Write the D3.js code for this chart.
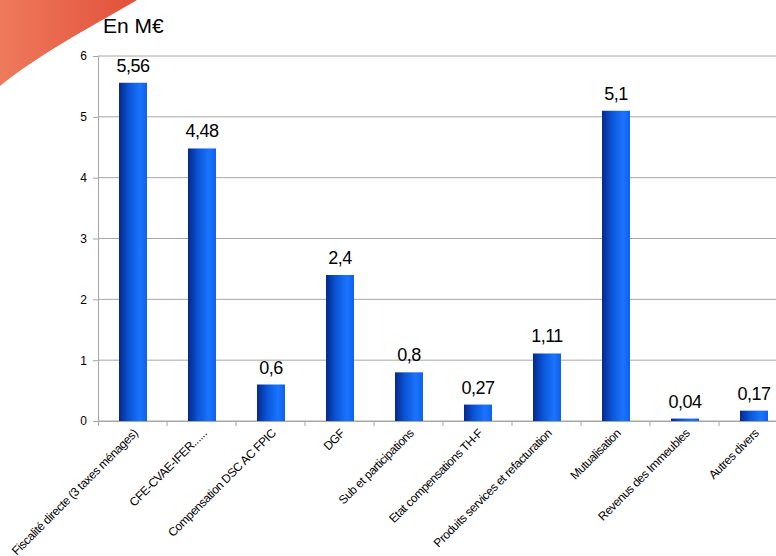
<!DOCTYPE html>
<html lang="fr">
<head>
  <meta charset="UTF-8">
  <title>Recettes en M€</title>
  <script src="https://d3js.org/d3.v7.min.js"></script>
  <style>
    body { margin: 0; background: #fff; font-family: 'Liberation Sans', Arial, sans-serif; }
    svg { display: block; }
  </style>
</head>
<body>
  <svg width="776" height="556"></svg>
  <script>
    // Chart data
    const categories = [
      "Fiscalité directe (3 taxes ménages)",
      "CFE-CVAE-IFER......",
      "Compensation DSC AC FPIC",
      "DGF",
      "Sub et participations",
      "Etat compensations TH-F",
      "Produits services et refacturation",
      "Mutualisation",
      "Revenus des Immeubles",
      "Autres divers"
    ];
    const values = [5.56, 4.48, 0.6, 2.4, 0.8, 0.27, 1.11, 5.1, 0.04, 0.17];
    const yTicks = [0, 1, 2, 3, 4, 5, 6];

    const svg = d3.select("svg");

    // orange swoosh in the corner
    const grad = svg.append("defs");
    const og = grad.append("linearGradient").attr("id", "swoosh")
      .attr("x1", "0%").attr("y1", "0%").attr("x2", "100%").attr("y2", "0%");
    og.append("stop").attr("offset", "0%").attr("stop-color", "#ee7a5c");
    og.append("stop").attr("offset", "100%").attr("stop-color", "#e2503a");
    svg.append("path")
      .attr("d", "M0,0 L137,0 C100,22 45,50 0,86 Z")
      .attr("fill", "url(#swoosh)");

    // bar gradient
    const bg = grad.append("linearGradient").attr("id", "bar")
      .attr("x1", "0%").attr("y1", "0%").attr("x2", "100%").attr("y2", "0%");
    bg.append("stop").attr("offset", "0%").attr("stop-color", "#06288a");
    bg.append("stop").attr("offset", "35%").attr("stop-color", "#0a55d6");
    bg.append("stop").attr("offset", "75%").attr("stop-color", "#1a74ff");
    bg.append("stop").attr("offset", "100%").attr("stop-color", "#0f60ea");

    const x = d3.scaleBand()
      .domain(categories)
      .range([98, 788]);

    const y = d3.scaleLinear()
      .domain([0, 6])
      .range([421, 56]);

    // gridlines
    svg.append("g")
      .selectAll("line")
      .data(yTicks)
      .join("line")
      .attr("x1", 98).attr("x2", 776)
      .attr("y1", d => y(d)).attr("y2", d => y(d))
      .attr("stroke", "#a6a6a6").attr("stroke-width", 1);

    // y axis
    const yAxis = svg.append("g")
      .attr("transform", "translate(98,0)")
      .call(d3.axisLeft(y).tickValues(yTicks).tickSize(5).tickFormat(d3.format("d")));
    yAxis.select(".domain").attr("stroke", "#a6a6a6");
    yAxis.selectAll(".tick line").attr("stroke", "#a6a6a6");
    yAxis.selectAll("text").attr("font-size", 12).attr("font-family", "'Liberation Sans', Arial, sans-serif")
      .attr("fill", "#000").attr("x", -11);

    // x axis
    const xAxis = svg.append("g")
      .attr("transform", `translate(0,${y(0)})`)
      .call(d3.axisBottom(x).tickSize(5).tickFormat(""));
    xAxis.select(".domain").attr("stroke", "#a6a6a6");
    xAxis.selectAll(".tick line")
      .attr("stroke", "#a6a6a6")
      .attr("transform", `translate(${x.bandwidth() / 2},0)`);

    // x labels rotated
    svg.append("g")
      .selectAll("text")
      .data(categories)
      .join("text")
      .attr("transform", d => `translate(${x(d) + x.bandwidth() / 2 + 6},${y(0) + 13}) rotate(-45)`)
      .attr("text-anchor", "end")
      .attr("font-size", 12)
      .attr("letter-spacing", -0.4)
      .text(d => d);

    // bars
    const barW = 28;
    svg.append("g")
      .selectAll("rect")
      .data(values)
      .join("rect")
      .attr("x", (d, i) => x(categories[i]) + x.bandwidth() / 2 - barW / 2 + 0.5)
      .attr("y", d => y(d))
      .attr("width", barW)
      .attr("height", d => y(0) - y(d))
      .attr("fill", "url(#bar)");

    // value labels
    svg.append("g")
      .selectAll("text")
      .data(values)
      .join("text")
      .attr("x", (d, i) => x(categories[i]) + x.bandwidth() / 2 + 0.5)
      .attr("y", d => y(d) - 11)
      .attr("text-anchor", "middle")
      .attr("font-size", 18)
      .attr("letter-spacing", -0.5)
      .text(d => String(d).replace(".", ","));

    // title
    svg.append("text")
      .attr("x", 103).attr("y", 33)
      .attr("font-size", 21)
      .text("En M€");
  </script>
</body>
</html>
